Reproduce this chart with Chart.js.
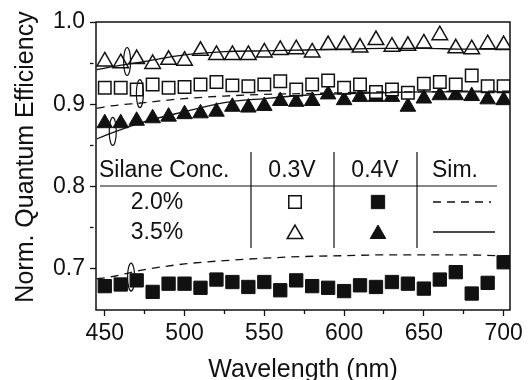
<!DOCTYPE html>
<html lang="en">
<head>
<meta charset="UTF-8">
<title>Norm. Quantum Efficiency</title>
<script src="https://cdn.jsdelivr.net/npm/chart.js@4.4.1/dist/chart.umd.min.js"></script>
<style>
  html, body { margin: 0; padding: 0; background: #fff; }
  #wrap { width: 528px; height: 380px; }
</style>
</head>
<body>
<div id="wrap"><canvas id="qeChart" width="528" height="380"></canvas></div>
<script>
// measured points, every 10 nm
const wavelengths = [450, 460, 470, 480, 490, 500, 510, 520, 530, 540, 550, 560, 570,
                     580, 590, 600, 610, 620, 630, 640, 650, 660, 670, 680, 690, 700];
// 2.0 % silane
const qe20at03 = [0.920, 0.920, 0.918, 0.924, 0.920, 0.921, 0.924, 0.927, 0.923, 0.922, 0.924, 0.928, 0.918,
                  0.924, 0.929, 0.920, 0.924, 0.915, 0.918, 0.914, 0.925, 0.927, 0.924, 0.935, 0.922, 0.922];
const qe20at04 = [0.679, 0.681, 0.686, 0.672, 0.682, 0.682, 0.677, 0.687, 0.684, 0.678, 0.684, 0.674, 0.686,
                  0.679, 0.677, 0.673, 0.680, 0.678, 0.684, 0.682, 0.676, 0.687, 0.696, 0.670, 0.683, 0.708];
// 3.5 % silane
const qe35at03 = [0.952, 0.950, 0.955, 0.949, 0.954, 0.953, 0.965, 0.960, 0.960, 0.960, 0.963, 0.966, 0.967,
                  0.963, 0.972, 0.972, 0.969, 0.978, 0.970, 0.971, 0.974, 0.984, 0.968, 0.967, 0.973, 0.972];
const qe35at04 = [0.877, 0.877, 0.880, 0.883, 0.885, 0.888, 0.889, 0.891, 0.897, 0.896, 0.898, 0.904, 0.903,
                  0.904, 0.912, 0.905, 0.909, 0.909, 0.909, 0.897, 0.907, 0.911, 0.911, 0.910, 0.906, 0.905];

// simulated curves
const simNm     = [445, 450, 475, 500, 525, 550, 575, 600, 625, 650, 675, 700, 704];
const sim20at03 = [0.895, 0.897, 0.902, 0.907, 0.910, 0.912, 0.913, 0.914, 0.915, 0.915, 0.916, 0.916, 0.916];
const sim20at04 = [0.688, 0.689, 0.699, 0.706, 0.710, 0.713, 0.715, 0.716, 0.717, 0.717, 0.717, 0.716, 0.716];
const sim35at03 = [0.942, 0.944, 0.952, 0.960, 0.964, 0.965, 0.966, 0.967, 0.968, 0.968, 0.967, 0.967, 0.967];
const sim35at04 = [0.858, 0.862, 0.879, 0.891, 0.902, 0.907, 0.911, 0.913, 0.914, 0.915, 0.915, 0.915, 0.915];

// axis labels
const xTickLabels = [450, 500, 550, 600, 650, 700];
const yTickLabels = ['0.7', '0.8', '0.9', '1.0'];

// ellipses grouping a measured set with its simulation
const ringNm = [464, 472, 455, 466.5];
const ringQe = [0.952, 0.913, 0.867, 0.690];

const INK = '#111';
const FONT = '"Liberation Sans", Arial, sans-serif';

const pts = (xs, ys) => xs.map((v, i) => ({ x: v, y: ys[i] }));

const openSquare   = { pointStyle: 'rect', radius: 8.8, borderWidth: 1.5, borderColor: INK, backgroundColor: '#fff' };
const fullSquare   = { pointStyle: 'rect', radius: 9.4, borderWidth: 1, borderColor: INK, backgroundColor: INK };
const openTriangle = { pointStyle: 'triangle', radius: 9, borderWidth: 1.5, borderColor: INK, backgroundColor: '#fff' };
const fullTriangle = { pointStyle: 'triangle', radius: 9, borderWidth: 1, borderColor: INK, backgroundColor: INK };

function markerSet(data, m) {
  return {
    data, showLine: false, order: 2,
    pointStyle: m.pointStyle, pointRadius: m.radius, pointBorderWidth: m.borderWidth,
    pointBorderColor: m.borderColor, pointBackgroundColor: m.backgroundColor
  };
}
function simSet(data, dashed) {
  return {
    data, showLine: true, order: 1, pointRadius: 0,
    borderColor: INK, borderWidth: 1.3, borderDash: dashed ? [8, 6] : [],
    cubicInterpolationMode: 'monotone'
  };
}

const isMajorY = v => Math.round(v * 100) % 10 === 0;
const isMajorX = v => Math.round(v) % 50 === 0;

const tableAndFrame = {
  id: 'tableAndFrame',
  afterDatasetsDraw(chart) {
    const { ctx, chartArea: a, scales: { x, y } } = chart;
    ctx.save();
    ctx.strokeStyle = INK;
    ctx.fillStyle = INK;

    // grouping ellipses
    ctx.lineWidth = 1.2;
    ringNm.forEach((nm, i) => {
      ctx.beginPath();
      ctx.ellipse(x.getPixelForValue(nm), y.getPixelForValue(ringQe[i]), 3.5, 14, 0, 0, Math.PI * 2);
      ctx.stroke();
    });

    // plot frame
    ctx.lineWidth = 1.5;
    ctx.strokeRect(a.left, a.top, a.right - a.left, a.bottom - a.top);

    // legend table
    const L = a.left;
    ctx.lineWidth = 1.2;
    ctx.beginPath();
    ctx.moveTo(L + 4, 186); ctx.lineTo(L + 401, 186);
    [155, 238, 321].forEach(dx => { ctx.moveTo(L + dx, 152); ctx.lineTo(L + dx, 248); });
    ctx.stroke();

    ctx.font = '23px ' + FONT;
    ctx.textBaseline = 'middle';
    ctx.textAlign = 'left';
    ctx.fillText('Silane Conc.', L + 3, 171);
    ctx.fillText('Sim.', L + 336, 171);
    ctx.textAlign = 'center';
    ctx.fillText('0.3V', L + 196, 171);
    ctx.fillText('0.4V', L + 279, 171);
    ctx.fillText('2.0%', L + 61, 203);
    ctx.fillText('3.5%', L + 61, 233);

    const mark = (m, px, py) => {
      ctx.fillStyle = m.backgroundColor;
      ctx.strokeStyle = m.borderColor;
      ctx.lineWidth = m.borderWidth;
      Chart.helpers.drawPoint(ctx, { pointStyle: m.pointStyle, radius: m.radius, borderWidth: m.borderWidth, rotation: 0 }, px, py);
    };
    mark(openSquare, L + 199, 202);
    mark(fullSquare, L + 282, 202);
    mark(openTriangle, L + 199, 234);
    mark(fullTriangle, L + 282, 234);

    ctx.strokeStyle = INK;
    ctx.lineWidth = 1.3;
    ctx.setLineDash([8, 6]);
    ctx.beginPath(); ctx.moveTo(L + 337, 202); ctx.lineTo(L + 395, 202); ctx.stroke();
    ctx.setLineDash([]);
    ctx.beginPath(); ctx.moveTo(L + 337, 232); ctx.lineTo(L + 399, 232); ctx.stroke();

    // axis titles
    ctx.fillStyle = INK;
    ctx.font = '25px ' + FONT;
    ctx.textAlign = 'center';
    ctx.textBaseline = 'alphabetic';
    ctx.fillText('Wavelength (nm)', (a.left + a.right) / 2, 377);
    ctx.translate(33, 157);
    ctx.rotate(-Math.PI / 2);
    ctx.fillText('Norm. Quantum Efficiency', 0, 0);
    ctx.restore();
  }
};

new Chart(document.getElementById('qeChart'), {
  type: 'scatter',
  data: {
    datasets: [
      simSet(pts(simNm, sim20at03), true),
      simSet(pts(simNm, sim20at04), true),
      simSet(pts(simNm, sim35at03), false),
      simSet(pts(simNm, sim35at04), false),
      markerSet(pts(wavelengths, qe20at03), openSquare),
      markerSet(pts(wavelengths, qe20at04), fullSquare),
      markerSet(pts(wavelengths, qe35at03), openTriangle),
      markerSet(pts(wavelengths, qe35at04), fullTriangle)
    ]
  },
  options: {
    responsive: false,
    animation: false,
    devicePixelRatio: 1,
    layout: { padding: { left: 0, top: 22, right: 18, bottom: 0 } },
    plugins: { legend: { display: false }, tooltip: { enabled: false } },
    scales: {
      x: {
        type: 'linear', min: 444.5, max: 704,
        afterFit: s => { s.height = 70; },
        border: { display: false },
        grid: {
          drawOnChartArea: false, tickLength: 6, tickWidth: 1.3, tickColor: INK,
          tickBorderDash: c => isMajorX(c.tick.value) ? [] : [4, 20]
        },
        ticks: {
          stepSize: 25, includeBounds: false, padding: 4, color: INK,
          font: { family: FONT, size: 23 },
          maxRotation: 0, autoSkip: false,
          callback: v => xTickLabels.includes(Math.round(v)) ? String(Math.round(v)) : ''
        }
      },
      y: {
        type: 'linear', min: 0.65, max: 1.0,
        afterFit: s => { s.width = 96; },
        border: { display: false },
        grid: {
          drawOnChartArea: false, tickLength: 6, tickWidth: 1.3,
          tickColor: c => c.tick.value < 0.66 ? 'rgba(0,0,0,0)' : INK,
          tickBorderDash: c => isMajorY(c.tick.value) ? [] : [3.5, 20]
        },
        ticks: {
          stepSize: 0.05, padding: 5, color: INK,
          font: { family: FONT, size: 23 },
          autoSkip: false,
          callback: v => {
            const s = v.toFixed(1);
            return isMajorY(v) && yTickLabels.includes(s) ? s : '';
          }
        }
      }
    }
  },
  plugins: [tableAndFrame]
});
</script>
</body>
</html>
